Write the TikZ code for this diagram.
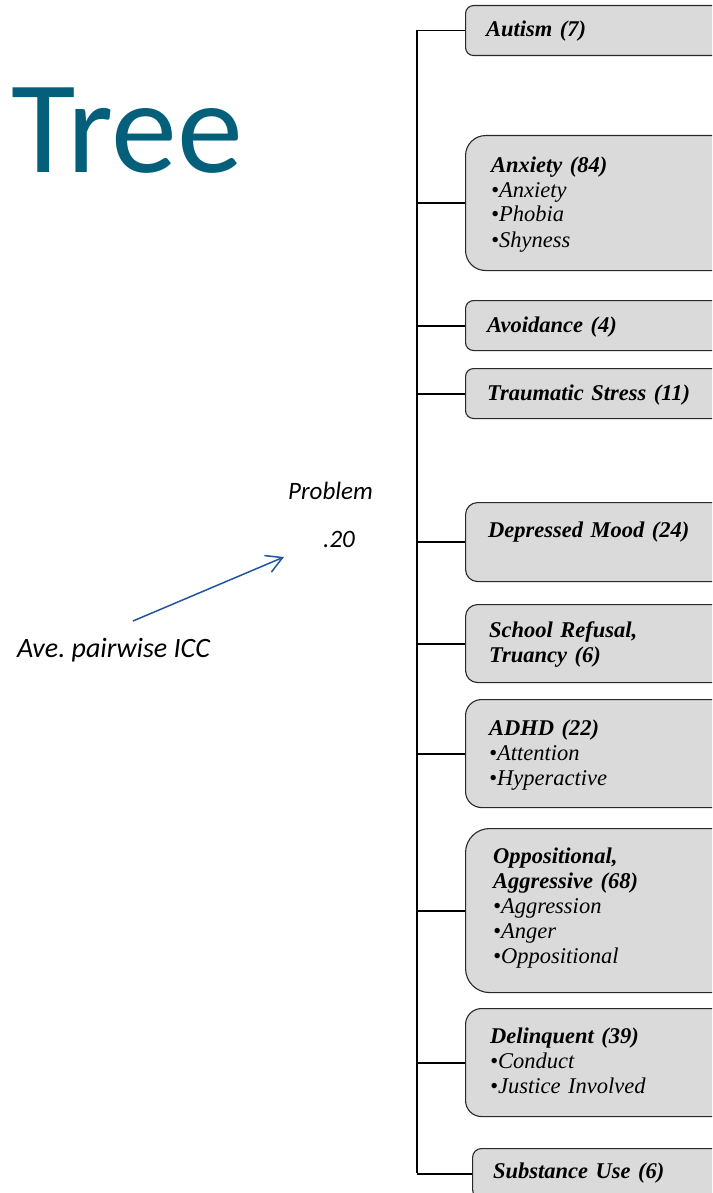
\documentclass[tikz,border=0pt]{standalone}
\usepackage{fontspec}
\setmainfont{Liberation Serif}
\newfontfamily\carlito{Carlito}
\usetikzlibrary{arrows.meta}

\definecolor{treeteal}{RGB}{4,96,122}
\definecolor{iccblue}{RGB}{32,86,160}
\definecolor{boxfill}{RGB}{218,218,218}
\definecolor{boxline}{RGB}{40,40,40}

\tikzset{
  catbox/.style={draw=boxline, fill=boxfill, line width=1.1pt, anchor=north west, inner sep=0pt, minimum width=270pt},
  cattext/.style={anchor=base west, inner sep=0pt, text width=215pt, align=left, font=\fontsize{22.5}{25}\selectfont\itshape},
  calitext/.style={anchor=base west, inner sep=0pt, font=\carlito\itshape\fontsize{25}{30}\selectfont},
  branch/.style={line width=1.9pt, black},
}

\begin{document}
\begin{tikzpicture}[x=1pt,y=-1pt]
% Page frame (1pt per pixel of the slide)
\useasboundingbox (0,0) rectangle (712,1193);
\clip (0,0) rectangle (712,1193);
\fill[white] (0,0) rectangle (712,1193);

% Title
\node[anchor=base west, inner sep=0pt, text=treeteal, font=\carlito\fontsize{132}{132}\selectfont] (title) at (11,173) {Tree};

% Category boxes
\node[catbox, minimum height=50pt, rounded corners=8pt] (autism) at (465,5) {};
\node[catbox, minimum height=135pt, rounded corners=20pt] (anxiety) at (465,135) {};
\node[catbox, minimum height=50pt, rounded corners=8pt] (avoid) at (465,300) {};
\node[catbox, minimum height=50pt, rounded corners=8pt] (trauma) at (465,368) {};
\node[catbox, minimum height=79pt, rounded corners=12pt] (depress) at (465,502) {};
\node[catbox, minimum height=78pt, rounded corners=12pt] (school) at (465,604) {};
\node[catbox, minimum height=108pt, rounded corners=16pt] (adhd) at (465,699) {};
\node[catbox, minimum height=164pt, rounded corners=24pt] (oppos) at (465,828) {};
\node[catbox, minimum height=108pt, rounded corners=16pt] (delinq) at (465,1008) {};
\node[catbox, minimum height=50pt, rounded corners=9pt] (subst) at (472,1148) {};

% Box texts
\node[cattext] (autismtxt) at (486,37) {\textbf{Autism (7)}};
\node[cattext] (anxietytxt) at (491,172) {\textbf{Anxiety (84)}\\•Anxiety\\•Phobia\\•Shyness};
\node[cattext] (avoidtxt) at (487,332) {\textbf{Avoidance (4)}};
\node[cattext] (traumatxt) at (487,400) {\textbf{Traumatic Stress (11)}};
\node[cattext] (depresstxt) at (488,537) {\textbf{Depressed Mood (24)}};
\node[cattext] (schooltxt) at (489,637) {\textbf{School Refusal,}\\\textbf{Truancy (6)}};
\node[cattext] (adhdtxt) at (489,735) {\textbf{ADHD (22)}\\•Attention\\•Hyperactive};
\node[cattext] (oppostxt) at (493,863) {\textbf{Oppositional,}\\\textbf{Aggressive (68)}\\•Aggression\\•Anger\\•Oppositional};
\node[cattext] (delinqtxt) at (490,1043) {\textbf{Delinquent (39)}\\•Conduct\\•Justice Involved};
\node[cattext] (substtxt) at (493,1178) {\textbf{Substance Use (6)}};

% Tree trunk and branches
\coordinate (trunktop) at (417,30);
\coordinate (trunkbot) at (417,1173);
\draw[branch] (trunktop) -- (trunkbot);
\draw[branch] (autism.west -| trunktop) -- (autism.west);
\draw[branch] (anxiety.west -| trunktop) -- (anxiety.west);
\draw[branch] (avoid.west -| trunktop) -- (avoid.west);
\draw[branch] (trauma.west -| trunktop) -- (trauma.west);
\draw[branch] (depress.west -| trunktop) -- (depress.west);
\draw[branch] (school.west -| trunktop) -- (school.west);
\draw[branch] (adhd.west -| trunktop) -- (adhd.west);
\draw[branch] (oppos.west -| trunktop) -- (oppos.west);
\draw[branch] (delinq.west -| trunktop) -- (delinq.west);
\draw[branch] (subst.west -| trunktop) -- (subst.west);

% Root label and ICC
\node[calitext] (problem) at (288,499) {Problem};
\node[calitext] (iccval) at (323,547) {.20};
\node[calitext, font=\carlito\itshape\fontsize{28}{32}\selectfont] (ave) at (17,657) {Ave.\ pairwise ICC};
\coordinate (icctail) at (133,621);
\coordinate (icctip) at (284,557);
\draw[iccblue, line width=1.5pt, -{Straight Barb[length=16pt, width=18pt]}] (icctail) -- (icctip);
\end{tikzpicture}
\end{document}
